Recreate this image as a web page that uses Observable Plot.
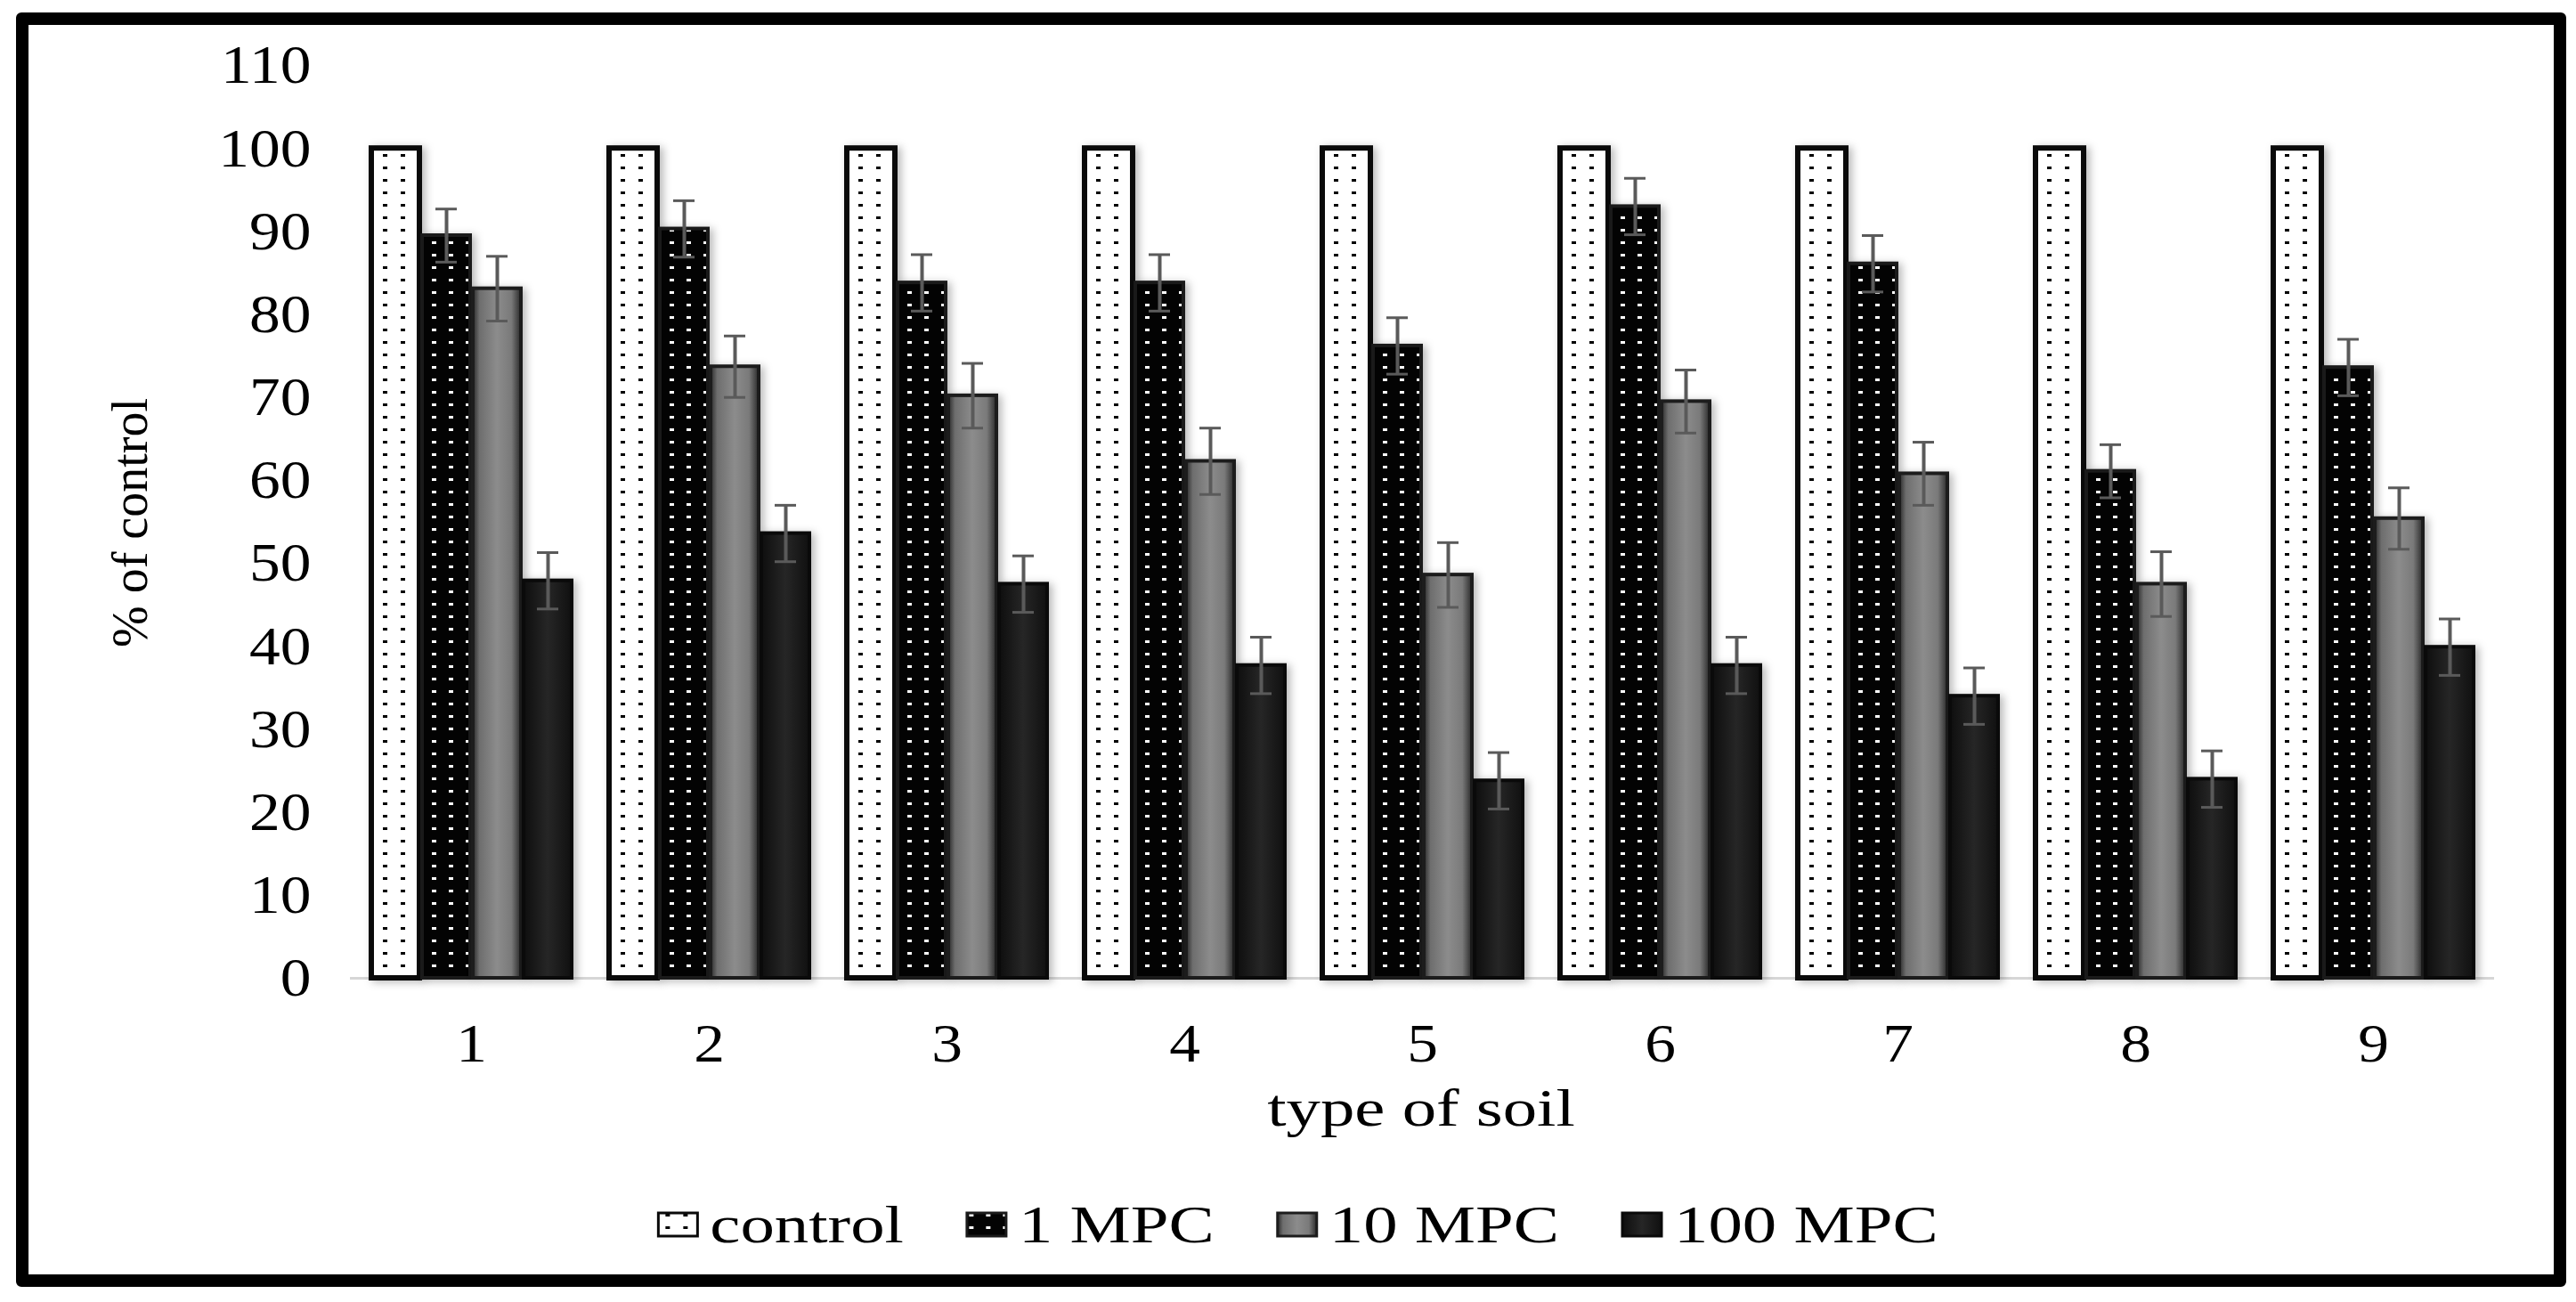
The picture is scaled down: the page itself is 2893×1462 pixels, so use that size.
<!DOCTYPE html>
<html>
<head>
<meta charset="utf-8">
<script src="https://cdn.jsdelivr.net/npm/d3@7"></script>
<script src="https://cdn.jsdelivr.net/npm/@observablehq/plot@0.6"></script>
<style>
  html, body { margin: 0; padding: 0; background: #fff; }
  #page { position: relative; width: 2893px; height: 1462px; overflow: hidden; background: #fff;
          font-family: "Liberation Serif", "Times New Roman", serif; }
  #frame { position: absolute; left: 18px; top: 14px; width: 2864px; height: 1431px;
           box-sizing: border-box; border: 14px solid #000; border-radius: 6px; }
  #chart { position: absolute; left: 0; top: 0; }
  #legend { position: absolute; left: 0; top: 1330px; }
</style>
</head>
<body>
<svg width="0" height="0" style="position:absolute">
  <defs>
    <pattern id="patControl" patternUnits="userSpaceOnUse" width="20" height="14">
      <rect width="20" height="14" fill="#ffffff"/>
      <rect x="8" y="5" width="5" height="3" fill="#000000"/>
    </pattern>
    <pattern id="pat1" patternUnits="userSpaceOnUse" width="19" height="14">
      <rect width="19" height="14" fill="#030303"/>
      <rect x="7" y="5" width="5" height="3" fill="#ffffff"/>
    </pattern>
    <linearGradient id="grad10" x1="0" x2="1" y1="0" y2="0">
      <stop offset="0" stop-color="#2a2a2a"/>
      <stop offset="0.14" stop-color="#6e6e6e"/>
      <stop offset="0.5" stop-color="#8c8c8c"/>
      <stop offset="0.8" stop-color="#7a7a7a"/>
      <stop offset="1" stop-color="#2a2a2a"/>
    </linearGradient>
    <linearGradient id="grad100" x1="0" x2="1" y1="0" y2="0">
      <stop offset="0" stop-color="#0e0e0e"/>
      <stop offset="0.5" stop-color="#262626"/>
      <stop offset="1" stop-color="#101010"/>
    </linearGradient>
  </defs>
</svg>
<div id="page">
  <div id="frame"></div>
  <div id="chart"></div>
  <div id="legend"></div>
</div>
<script>
// ---------- data ----------
const soils = ["1", "2", "3", "4", "5", "6", "7", "8", "9"];
const seriesNames = ["control", "1 MPC", "10 MPC", "100 MPC"];
const controlValues = [100, 100, 100, 100, 100, 100, 100, 100, 100];
const mpc1Values   = [89.5, 90.3, 83.8, 83.8, 76.2, 93.0, 86.1, 61.1, 73.6];
const mpc10Values  = [83.1, 73.7, 70.2, 62.3, 48.6, 69.5, 60.8, 47.5, 55.4];
const mpc100Values = [47.9, 53.6, 47.5, 37.7, 23.8, 37.7, 34.0, 24.0, 39.9];
const mpc1Errors   = [3.2, 3.4, 3.4, 3.4, 3.4, 3.4, 3.4, 3.2, 3.4];
const mpc10Errors  = [3.9, 3.7, 3.9, 4.0, 3.9, 3.8, 3.8, 3.9, 3.7];
const mpc100Errors = [3.4, 3.4, 3.4, 3.4, 3.4, 3.4, 3.4, 3.4, 3.4];
const yTicks = [0, 10, 20, 30, 40, 50, 60, 70, 80, 90, 100, 110];
const xTitle = "type of soil";
const yTitle = "% of control";

// ---------- styles ----------
const fills = {"control": "url(#patControl)", "1 MPC": "url(#pat1)", "10 MPC": "url(#grad10)", "100 MPC": "url(#grad100)"};
const strokes = {"control": "#0a0a0a", "1 MPC": "#1a1a1a", "10 MPC": "#1c1c1c", "100 MPC": "#0a0a0a"};
const strokeWidths = {"control": 6, "1 MPC": 4, "10 MPC": 4, "100 MPC": 4};

const valueSets = [controlValues, mpc1Values, mpc10Values, mpc100Values];
const errorSets = [null, mpc1Errors, mpc10Errors, mpc100Errors];
const rows = [];
soils.forEach((s, i) => {
  seriesNames.forEach((name, j) => {
    rows.push({soil: s, series: name, value: valueSets[j][i], err: errorSets[j] ? errorSets[j][i] : null});
  });
});
const errRows = rows.filter(d => d.err != null);

const barMark = name => Plot.barY(rows.filter(d => d.series === name), {
  fx: "soil", x: "series", y: "value",
  fill: fills[name], stroke: strokes[name], strokeWidth: strokeWidths[name]
});

const plot = Plot.plot({
  width: 2893,
  height: 1310,
  marginLeft: 393,
  marginRight: 92,
  marginTop: 73,
  marginBottom: 212,
  style: {fontFamily: "Liberation Serif, Times New Roman, serif", fontSize: "62px", color: "#000", background: "transparent", overflow: "visible"},
  fx: {domain: soils, paddingInner: 0.147, paddingOuter: 0.08, label: null, tickSize: 0, tickPadding: 49},
  x: {domain: seriesNames, axis: null, paddingInner: 0.06, paddingOuter: 0},
  y: {domain: [0, 110], ticks: yTicks, tickSize: 0, tickPadding: 66, label: null},
  marks: [
    Plot.ruleY([0], {stroke: "#d6d6d6", strokeWidth: 3, insetLeft: -22, insetRight: -22}),
    ...seriesNames.map(barMark),
    Plot.ruleX(errRows, {fx: "soil", x: "series", y1: d => d.value - d.err, y2: d => d.value + d.err, stroke: "#5a5a5a", strokeWidth: 4}),
    Plot.tickY(errRows, {fx: "soil", x: "series", y: d => d.value - d.err, inset: 15, stroke: "#5a5a5a", strokeWidth: 3}),
    Plot.tickY(errRows, {fx: "soil", x: "series", y: d => d.value + d.err, inset: 15, stroke: "#5a5a5a", strokeWidth: 3})
  ]
});
document.getElementById("chart").appendChild(plot);

// bar shadows
plot.querySelectorAll('g[aria-label="bar"]').forEach(g => {
  g.style.filter = "drop-shadow(4px 2px 5px rgba(0,0,0,0.28))";
});

// widen tick labels like the reference
plot.querySelectorAll("text").forEach(t => {
  const w = t.getComputedTextLength();
  if (w > 0) { t.setAttribute("textLength", w * 1.12); t.setAttribute("lengthAdjust", "spacingAndGlyphs"); }
});

const svg = d3.select(plot);
const xt = svg.append("text")
  .attr("x", 1596).attr("y", 1264)
  .attr("text-anchor", "middle")
  .attr("font-size", 60)
  .attr("fill", "#000")
  .text(xTitle);
const xw = xt.node().getComputedTextLength();
xt.attr("textLength", xw * 1.28).attr("lengthAdjust", "spacingAndGlyphs");

svg.append("text")
  .attr("transform", "translate(165,587) rotate(-90)")
  .attr("text-anchor", "middle")
  .attr("font-size", 56)
  .attr("fill", "#000")
  .text(yTitle);

// ---------- legend ----------
const leg = d3.select("#legend").append("svg")
  .attr("width", 2893).attr("height", 90)
  .style("font-family", "Liberation Serif, Times New Roman, serif");
const lg = leg.append("g");
let cx = 0;
seriesNames.forEach((name, j) => {
  lg.append("rect")
    .attr("x", cx).attr("y", 32).attr("width", 44).attr("height", 26)
    .attr("fill", fills[name]).attr("stroke", strokes[name]).attr("stroke-width", 3);
  cx += 44 + 14;
  const t = lg.append("text")
    .attr("x", cx).attr("y", 65)
    .attr("font-size", 60).attr("fill", "#000")
    .text(name);
  const w = t.node().getComputedTextLength() * 1.28;
  t.attr("textLength", w).attr("lengthAdjust", "spacingAndGlyphs");
  cx += w;
  if (j < seriesNames.length - 1) cx += 71;
});
lg.attr("transform", `translate(${1458 - cx / 2},0)`);
</script>
</body>
</html>
